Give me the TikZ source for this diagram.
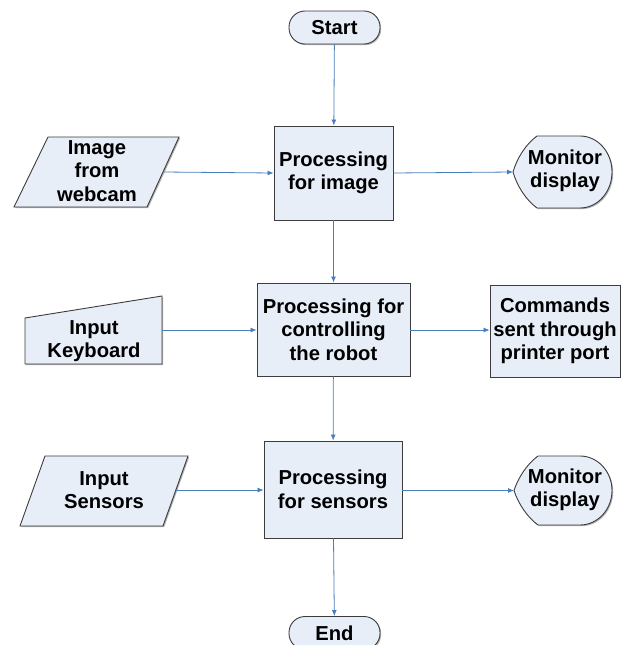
\documentclass[tikz,border=0pt]{standalone}
\usepackage{fontspec}
\setmainfont{Liberation Sans}
\usetikzlibrary{arrows.meta,shadows}
\definecolor{boxfill}{HTML}{E8EEF8}
\definecolor{lineblue}{HTML}{4A7EBB}
\definecolor{edge}{HTML}{3C3C3C}
\tikzset{
  lbl/.style={font=\fontsize{20.2}{23.5}\selectfont\bfseries, align=center, inner sep=0pt},
  procbox/.style={draw=edge, line width=0.9pt, fill=boxfill, drop shadow={shadow xshift=1.2pt, shadow yshift=-1.2pt, opacity=0.6, fill=gray}, lbl},
  termbox/.style={procbox, rounded corners=16pt, minimum width=91pt, minimum height=33pt},
  shapeline/.style={draw=edge, line width=0.9pt, fill=boxfill},
  shadowfill/.style={fill=gray, opacity=0.6},
  conn/.style={draw=lineblue, line width=0.8pt, -{Latex[length=6pt,width=5pt]}}
}
\begin{document}
\begin{tikzpicture}[x=1pt,y=-1pt]
\useasboundingbox (0,0) rectangle (627,645);
\begin{scope}
\clip (0,0) rectangle (627,645);
% terminals and process boxes
\node[termbox] (start) at (334.5,27.5) {Start};
\node[procbox, minimum width=119pt, minimum height=94pt] (pimg) at (333.5,173) {Processing\\for image};
\node[procbox, minimum width=153pt, minimum height=93pt] (prob) at (333.5,329.5) {Processing for\\controlling\\the robot};
\node[procbox, minimum width=130pt, minimum height=92pt] (cmd) at (555,331) {Commands\\sent through\\printer port};
\node[procbox, minimum width=138pt, minimum height=97pt] (psens) at (333,489.5) {Processing\\for sensors};
\node[termbox] (end) at (334.5,633) {End};

% Image from webcam (parallelogram)
\fill[shadowfill, shift={(1.2,1.2)}] (48,137) -- (179,137) -- (147,207) -- (14,207) -- cycle;
\path[shapeline] (48,137) -- (179,137) -- (147,207) -- (14,207) -- cycle;
\node[lbl] (web) at (97,171) {Image\\from\\webcam};
\coordinate (webE) at (163,172);

% Input Keyboard (manual input)
\fill[shadowfill, shift={(1.2,1.2)}] (25,318) -- (162,296) -- (162,364) -- (25,364) -- cycle;
\path[shapeline] (25,318) -- (162,296) -- (162,364) -- (25,364) -- cycle;
\node[lbl] (kbd) at (94,341) {Input\\Keyboard};
\coordinate (kbdE) at (162,330);

% Input Sensors (parallelogram)
\fill[shadowfill, shift={(1.2,1.2)}] (45,456) -- (188,456) -- (163,526) -- (20,526) -- cycle;
\path[shapeline] (45,456) -- (188,456) -- (163,526) -- (20,526) -- cycle;
\node[lbl] (sens) at (104,490) {Input\\Sensors};
\coordinate (sensE) at (176,490);

% Monitor display 1
\def\dispA{(537,136) -- (580,136) .. controls (597.7,136) and (612,152.1) .. (612,172)
  .. controls (612,191.9) and (597.7,208) .. (580,208) -- (537,208)
  .. controls (526,200) and (517,186) .. (513,172) .. controls (517,158) and (526,144) .. (537,136) -- cycle}
\fill[shadowfill, shift={(1.2,1.2)}] \dispA;
\path[shapeline] \dispA;
\node[lbl] (mon1) at (565,171) {Monitor\\display};
\coordinate (mon1W) at (513,172);

% Monitor display 2
\def\dispB{(538,456) -- (580,456) .. controls (597.7,456) and (612,471.5) .. (612,490.5)
  .. controls (612,509.5) and (597.7,525) .. (580,525) -- (538,525)
  .. controls (527,517) and (518,503) .. (514,490.5) .. controls (518,478) and (527,464) .. (538,456) -- cycle}
\fill[shadowfill, shift={(1.2,1.2)}] \dispB;
\path[shapeline] \dispB;
\node[lbl] (mon2) at (565,490) {Monitor\\display};
\coordinate (mon2W) at (514,490.5);

% connectors
\draw[conn] (start) -- (pimg);
\draw[conn] (webE) -- (pimg.west);
\draw[conn] (pimg.east) -- (mon1W);
\draw[conn] (pimg) -- (prob);
\draw[conn] (kbdE) -- (prob.west |- kbdE);
\draw[conn] (prob.east |- kbdE) -- (cmd.west |- kbdE);
\draw[conn] (prob) -- (psens);
\draw[conn] (sensE) -- (psens.west |- sensE);
\draw[conn] (psens.east |- mon2W) -- (mon2W);
\draw[conn] (psens) -- (end);
\end{scope}
\end{tikzpicture}
\end{document}
